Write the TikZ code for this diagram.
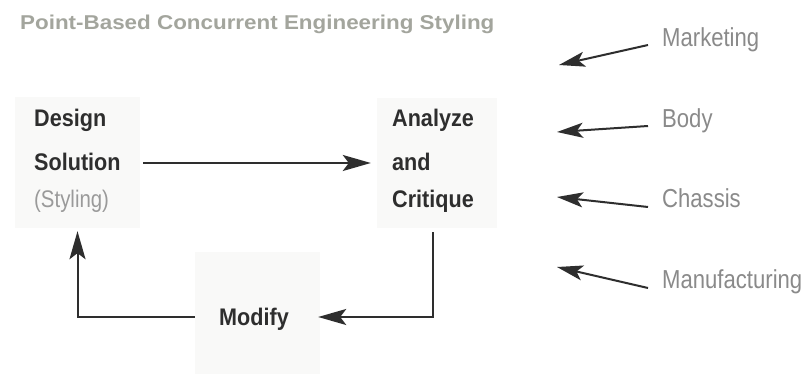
\documentclass[tikz,border=0pt]{standalone}
\usepackage{fontspec}
\setmainfont{Liberation Sans}
\newfontfamily\titlefont[FakeStretch=1.12]{Liberation Sans}
\newfontfamily\condfont[FakeStretch=0.85]{Liberation Sans}
\newfontfamily\boldcond[FakeStretch=0.9]{Liberation Sans}
\usetikzlibrary{arrows.meta}
\definecolor{boxbg}{HTML}{F9F9F8}
\definecolor{ink}{HTML}{2E2E2E}
\definecolor{titlegray}{HTML}{A3A59D}
\definecolor{labgray}{HTML}{8A8A8A}
\definecolor{lightgray}{HTML}{9A9A9A}
\tikzset{
  bgbox/.style={fill=boxbg, draw=none, inner sep=0pt},
  mainlab/.style={anchor=base west, inner sep=0pt, text=ink, font=\boldcond\fontsize{24}{24}\selectfont\bfseries},
  sublab/.style={anchor=base west, inner sep=0pt, text=lightgray, font=\condfont\fontsize{24}{24}\selectfont},
  sidelab/.style={anchor=base west, inner sep=0pt, text=labgray, font=\condfont\fontsize{26}{26}\selectfont},
  arr/.style={draw=ink, line width=2pt, -{Stealth[length=28pt,width=16pt,inset=6pt]}},
  sidearr/.style={draw=ink, line width=2pt, -{Stealth[length=26pt,width=15pt,inset=6pt]}}
}
\begin{document}
\begin{tikzpicture}[x=1pt,y=-1pt]
\useasboundingbox (0,0) rectangle (806,374);
\fill[white] (0,0) rectangle (806,374);
% title
\node[anchor=base west, inner sep=0pt, text=titlegray, font=\titlefont\fontsize{20}{20}\selectfont\bfseries] (title) at (20,30) {Point-Based Concurrent Engineering Styling};
% boxes
\node[bgbox, minimum width=125pt, minimum height=131pt] (design) at (77.5,162.5) {};
\node[bgbox, minimum width=120pt, minimum height=130pt] (analyze) at (437,163) {};
\node[bgbox, minimum width=125pt, minimum height=122pt] (modify) at (257.5,313) {};
% texts
\node[mainlab] (t1) at (34,127) {Design};
\node[mainlab] (t2) at (34,171) {Solution};
\node[sublab] (t3) at (34,208) {(Styling)};
\node[mainlab] (t4) at (392,127) {Analyze};
\node[mainlab] (t5) at (392,171) {and};
\node[mainlab] (t6) at (392,208) {Critique};
\node[mainlab] (t7) at (219,325) {Modify};
% flow
\coordinate (yrow) at (0,163);
\coordinate (xdown) at (433,0);
\coordinate (yloop) at (0,317);
\draw[arr, shorten <=3pt, shorten >=6pt] (design.east |- yrow) -- (analyze.west |- yrow);
\draw[arr, shorten <=4pt, shorten >=-2pt] (analyze.south -| xdown) |- (modify.east |- yloop);
\draw[arr, shorten >=3pt] (modify.west |- yloop) -| (design.south);
% side labels
\node[sidelab] (mkt) at (662,47) {Marketing};
\node[sidelab] (body) at (662,128) {Body};
\node[sidelab] (chas) at (662,208) {Chassis};
\node[sidelab] (manu) at (662,288) {Manufacturing};
\coordinate (tm) at (559,65);
\coordinate (tb) at (557,132);
\coordinate (tc) at (557,197);
\coordinate (tf) at (557,267);
\draw[sidearr] ([xshift=-14pt,yshift=2pt]mkt.base west) -- (tm);
\draw[sidearr] ([xshift=-14pt,yshift=2pt]body.base west) -- (tb);
\draw[sidearr] ([xshift=-14pt,yshift=1pt]chas.base west) -- (tc);
\draw[sidearr] ([xshift=-14pt]manu.base west) -- (tf);
\end{tikzpicture}
\end{document}
